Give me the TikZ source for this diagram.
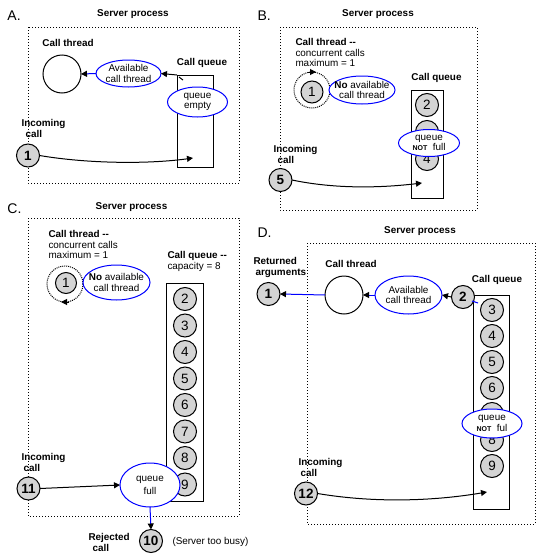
\documentclass[tikz,border=0pt]{standalone}
\usepackage{fontspec}
\setmainfont{Liberation Sans}
\usetikzlibrary{shapes.geometric,arrows.meta}
\definecolor{numgray}{RGB}{212,212,212}
\definecolor{bblue}{RGB}{0,0,255}
\newcommand\txtsz{\fontsize{9.9}{10.5}\selectfont}
\newcommand\numsz{\fontsize{13.5}{14}\selectfont}
\newcommand\pansz{\fontsize{14}{14}\selectfont}
\newcommand\notsz{\fontsize{7}{7}\selectfont}
\tikzset{
  frame/.style={draw, line width=1pt, dash pattern=on 1pt off 2pt},
  qbox/.style={draw, line width=1pt, inner sep=0pt, outer sep=0pt},
  num/.style={circle, draw, fill=numgray, minimum size=23pt, inner sep=0pt, outer sep=0pt, font=\numsz},
  numb/.style={num, font=\numsz\bfseries},
  bub/.style={ellipse, draw=bblue, fill=white, inner sep=0pt, outer sep=0pt},
  lab/.style={font=\txtsz\bfseries, inner sep=0pt},
  txt/.style={font=\txtsz, inner sep=0pt},
  pan/.style={font=\pansz, anchor=west, inner sep=0pt},
  thr/.style={circle, draw, minimum size=38pt, inner sep=0pt, outer sep=0pt},
  thrd/.style={circle, draw, dash pattern=on 1pt off 1pt, minimum size=36pt, inner sep=0pt, outer sep=0pt},
  arr/.style={-{Triangle[length=6pt,width=6pt]}},
  arrb/.style={draw=bblue, -{Triangle[length=6pt,width=6pt,color=black]}}
}
\begin{document}
\begin{tikzpicture}[x=1pt, y=-1pt, line width=1pt]
\useasboundingbox[fill=white] (0,0) rectangle (546,560);

% ---------------- Panel A ----------------
\node[pan] (la) at (7,16) {A.};
\node[lab] (spa) at (133,14) {Server process};
\draw[frame] (28,27) rectangle (239,183);
\node[lab] (cta) at (68,43) {Call thread};
\node[thr] (ta) at (62,74) {};
\node[lab] (cqa) at (202,63) {Call queue};
\node[qbox, minimum width=36pt, minimum height=92pt, anchor=north west] (qa) at (177,75) {};
\node[bub, minimum width=65pt, minimum height=27pt] (ava) at (128.5,73.5) {};
\node[txt, align=center] (avat) at (ava) {Available\\call thread};
\node[bub, minimum width=60pt, minimum height=30pt] (qea) at (197.5,102) {};
\node[txt, align=center] (qeat) at (qea) {queue\\empty};
\draw[arrb] (ava.west) -- (ta.east);
\draw[arr] (qa.north west) -- (ava.east);
\draw (179,77) -- (183,80);
\node[lab, align=left, anchor=north west] (ica) at (21,119) {Incoming\\\hspace*{4pt}call};
\node[numb] (n1a) at (28,155.5) {1};
\coordinate (ea) at (193,158);
\draw[arr] (n1a.east) .. controls (90,164) and (150,164) .. (ea);

% ---------------- Panel B ----------------
\node[pan] (lb) at (257,16) {B.};
\node[lab] (spb) at (378,14) {Server process};
\draw[frame] (280,27) rectangle (477,210);
\node[txt, align=left, anchor=north west] (ctb) at (295,38) {{\bfseries Call thread -{}-}\\concurrent calls\\maximum = 1};
\node[thrd] (tb) at (312,90) {};
\node[num, minimum size=22pt] (n1b) at (312,92) {1};
\draw[arr] ([xshift=-4pt]tb.north) -- ([xshift=4pt]tb.north);
\node[bub, minimum width=66pt, minimum height=28pt] (nab) at (362,90) {};
\node[txt, align=center] (nabt) at (nab) {{\bfseries No} available\\call thread};
\node[lab] (cqb) at (436.5,78) {Call queue};
\node[qbox, minimum width=32pt, minimum height=108pt, anchor=north west] (qb) at (411,90) {};
\node[num] (n2b) at (427,105) {2};
\node[num] (n3b) at (427,132) {};
\node[num] (n4b) at (427,159) {4};
\node[bub, minimum width=61pt, minimum height=27pt] (qnb) at (429,143) {};
\node[txt, align=center] (qnbt) at (qnb) {queue\\{\notsz\bfseries NOT}\ \ full};
\node[lab, align=left, anchor=north west] (icb) at (273,145) {Incoming\\\hspace*{4pt}call};
\node[numb] (n5b) at (280.5,180) {5};
\coordinate (eb) at (422,183);
\draw[arr] (n5b.east) .. controls (335,189) and (380,188) .. (eb);

% ---------------- Panel C ----------------
\node[pan] (lc) at (7,209) {C.};
\node[lab] (spc) at (131.5,207) {Server process};
\draw[frame] (28,218) rectangle (239,516);
\node[txt, align=left, anchor=north west] (ctc) at (48,230) {{\bfseries Call thread -{}-}\\concurrent calls\\maximum = 1};
\node[thrd] (tc) at (65,284) {};
\node[num, minimum size=21pt] (n1c) at (66,283) {1};
\draw[arr] ([xshift=4pt]tc.south) -- ([xshift=-4pt]tc.south);
\node[bub, minimum width=67pt, minimum height=35pt] (nac) at (116.5,282.5) {};
\node[txt, align=center] (nact) at (nac) {{\bfseries No} available\\call thread};
\node[txt, align=left, anchor=north west] (cqc) at (167,251) {{\bfseries Call queue -{}-}\\capacity = 8};
\node[qbox, minimum width=37pt, minimum height=218pt, anchor=north west] (qc) at (166,283) {};
\foreach \i in {2,...,9} {
  \node[num] (c\i) at (185,{299+26.5*(\i-2)}) {\i};
}
\node[bub, minimum width=60pt, minimum height=44pt] (qfc) at (150,485) {};
\node[txt, align=center] (qfct) at (qfc) {queue\\[2.5pt]full};
\node[lab, align=left, anchor=north west] (icc) at (21,453) {Incoming\\\hspace*{2pt}call};
\node[numb] (n11) at (28.5,488.5) {11};
\draw[arr] (n11.east) -- (qfc.west);
\node[numb] (n10) at (151,541) {10};
\draw[arrb] (qfc.south) -- (n10.north);
\node[lab, align=left, anchor=north west] (rjc) at (88,533) {Rejected\\\hspace*{4pt}call};
\node[txt, anchor=west] (busy) at (172,542) {(Server too busy)};

% ---------------- Panel D ----------------
\node[pan] (ld) at (257,233) {D.};
\node[lab] (spd) at (420,231) {Server process};
\draw[frame] (307,243) rectangle (535,524);
\node[lab, align=left, anchor=north west] (rad) at (253,257) {Returned\\\hspace*{2pt}arguments};
\node[numb] (n1d) at (268.5,294) {1};
\node[lab] (ctd) at (351,264) {Call thread};
\node[thr] (td) at (344,295) {};
\node[bub, minimum width=67pt, minimum height=38pt] (avd) at (408.5,295) {};
\node[txt, align=center] (avdt) at (avd) {Available\\call thread};
\node[lab] (cqd) at (497,280) {Call queue};
\node[qbox, minimum width=36pt, minimum height=214pt, anchor=north west] (qd) at (473,295) {};
\node[numb] (n2d) at (463,297) {2};
\foreach \i/\t in {3/3,4/4,5/5,6/6,7/{},8/8,9/9} {
  \node[num] (d\i) at (492,{310+26*(\i-3)}) {\t};
}
\node[bub, minimum width=60pt, minimum height=29pt] (qnd) at (492,423.5) {};
\node[txt, align=center] (qndt) at (qnd) {queue\\{\notsz\bfseries NOT}\ \ ful};
\draw[arrb] (td.west) -- (n1d.east);
\draw[arrb] (avd.west) -- (td.east);
\draw[arr] (n2d.west) -- (avd.east);
\draw[bblue] (472,301) -- (478,303);
\node[lab, align=left, anchor=north west] (icd) at (298,458) {Incoming\\\hspace*{2pt}call};
\node[numb] (n12) at (306,493.5) {12};
\coordinate (ed) at (487,492);
\draw[arr] (n12.east) .. controls (380,504) and (440,500) .. (ed);
\end{tikzpicture}
\end{document}
